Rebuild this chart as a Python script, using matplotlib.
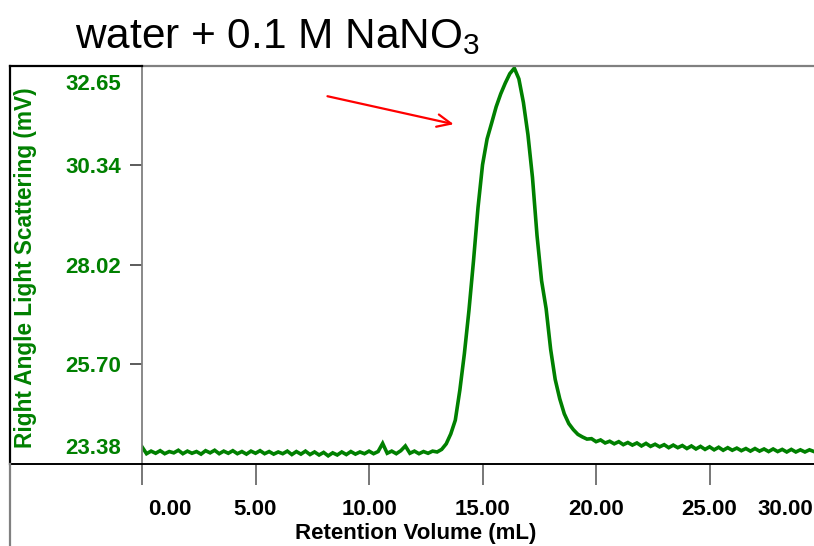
import numpy as np
import matplotlib.pyplot as plt
from matplotlib.lines import Line2D

plt.rcParams['font.family'] = 'Liberation Sans'
plt.rcParams['mathtext.fontset'] = 'custom'
plt.rcParams['mathtext.rm'] = 'Liberation Sans'

# Retention volume (mL) and right angle light scattering signal (mV)
vol_base = [0.0, 0.2, 0.4, 0.6, 0.8, 1.0, 1.2, 1.4, 1.6, 1.8, 2.0, 2.2, 2.4, 2.6, 2.8,
            3.0, 3.2, 3.4, 3.6, 3.8, 4.0, 4.2, 4.4, 4.6, 4.8, 5.0, 5.2, 5.4, 5.6, 5.8,
            6.0, 6.2, 6.4, 6.6, 6.8, 7.0, 7.2, 7.4, 7.6, 7.8, 8.0, 8.2, 8.4, 8.6, 8.8,
            9.0, 9.2, 9.4, 9.6, 9.8, 10.0, 10.2, 10.4, 10.6, 10.8, 11.0, 11.2, 11.4,
            11.6, 11.8, 12.0, 12.2, 12.4, 12.6, 12.8, 13.0, 13.2]
ras_base = [23.78, 23.62, 23.68, 23.63, 23.69, 23.62, 23.67, 23.64, 23.70, 23.62, 23.68,
            23.63, 23.67, 23.61, 23.69, 23.64, 23.70, 23.62, 23.68, 23.63, 23.69, 23.62,
            23.67, 23.61, 23.68, 23.63, 23.69, 23.62, 23.67, 23.61, 23.66, 23.62, 23.68,
            23.60, 23.67, 23.61, 23.68, 23.60, 23.66, 23.59, 23.65, 23.57, 23.64, 23.59,
            23.66, 23.60, 23.67, 23.61, 23.66, 23.62, 23.68, 23.62, 23.67, 23.86, 23.63,
            23.68, 23.62, 23.69, 23.80, 23.63, 23.68, 23.62, 23.67, 23.63, 23.68, 23.66,
            23.72]

vol_peak = [13.4, 13.6, 13.8, 14.0, 14.2, 14.4, 14.6, 14.8, 15.0, 15.2, 15.4, 15.6, 15.8,
            16.0, 16.2, 16.4, 16.6, 16.8, 17.0, 17.2, 17.4, 17.6, 17.8, 18.0, 18.2, 18.4,
            18.6, 18.8, 19.0, 19.2, 19.4, 19.6]
ras_peak = [23.85, 24.08, 24.40, 25.10, 25.95, 26.95, 28.10, 29.35, 30.35, 30.95, 31.32,
            31.70, 32.00, 32.25, 32.47, 32.60, 32.35, 31.80, 31.05, 30.05, 28.70, 27.65,
            27.00, 26.05, 25.35, 24.90, 24.55, 24.32, 24.18, 24.07, 24.01, 23.96]

vol_tail = [19.8, 20.0, 20.2, 20.4, 20.6, 20.8, 21.0, 21.2, 21.4, 21.6, 21.8, 22.0, 22.2,
            22.4, 22.6, 22.8, 23.0, 23.2, 23.4, 23.6, 23.8, 24.0, 24.2, 24.4, 24.6, 24.8,
            25.0, 25.2, 25.4, 25.6, 25.8, 26.0, 26.2, 26.4, 26.6, 26.8, 27.0, 27.2, 27.4,
            27.6, 27.8, 28.0, 28.2, 28.4, 28.6, 28.8, 29.0, 29.2, 29.4, 29.6]
ras_tail = [23.97, 23.90, 23.94, 23.87, 23.91, 23.85, 23.90, 23.83, 23.88, 23.82, 23.87,
            23.80, 23.86, 23.79, 23.84, 23.78, 23.83, 23.76, 23.82, 23.76, 23.81, 23.74,
            23.80, 23.73, 23.79, 23.72, 23.78, 23.71, 23.77, 23.70, 23.76, 23.70, 23.75,
            23.69, 23.74, 23.68, 23.74, 23.68, 23.73, 23.67, 23.73, 23.67, 23.72, 23.66,
            23.72, 23.66, 23.71, 23.66, 23.71, 23.67]

y_ticks = [23.38, 25.70, 28.02, 30.34, 32.65]
x_ticks = [0, 5, 10, 15, 20, 25]
x_ticklabels = ['0.00', '5.00', '10.00', '15.00', '20.00', '25.00', '30.00']

vol = np.array(vol_base + vol_peak + vol_tail)
ras = np.array(ras_base + ras_peak + ras_tail)

FS = 16  # tick and axis label size

W, H = 814, 546
fig = plt.figure(figsize=(W / 100, H / 100), dpi=100)
ax = fig.add_axes([142 / W, (H - 464) / H, (W - 142) / W, (464 - 66) / H])

ax.plot(vol, ras, color='green', lw=2.6, solid_joinstyle='miter')
ax.set_xlim(0, 29.6)
ax.set_ylim(y_ticks[0], y_ticks[-1])

# spines
ax.spines['right'].set_visible(False)
ax.spines['top'].set_color('#808080')
ax.spines['top'].set_linewidth(1.6)
ax.spines['left'].set_color('#808080')
ax.spines['left'].set_linewidth(1.3)
ax.spines['bottom'].set_color('black')
ax.spines['bottom'].set_linewidth(1.4)

# x ticks: marks at every 5 mL, end labels drawn separately
ax.set_xticks(x_ticks)
ax.set_xticklabels([''] + x_ticklabels[1:6])
ax.tick_params(axis='x', length=15, width=1.2, color='#606060', pad=10,
               labelsize=FS)
for lab in ax.get_xticklabels():
    lab.set_fontweight('bold')
ax.annotate(x_ticklabels[0], xy=(0, 0), xycoords='axes fraction', xytext=(4.5, -25),
            textcoords='offset points', ha='left', va='top', fontsize=FS,
            fontweight='bold')
ax.annotate(x_ticklabels[6], xy=(1, 0), xycoords='axes fraction', xytext=(-41, -25),
            textcoords='offset points', ha='left', va='top', fontsize=FS,
            fontweight='bold')

# y ticks: interior marks, end labels pushed inside the frame
ax.set_yticks(y_ticks[1:4])
ax.set_yticklabels(['%.2f' % v for v in y_ticks[1:4]])
ax.tick_params(axis='y', length=8.5, width=1.2, color='#404040', pad=6.5,
               labelsize=FS, labelcolor='green')
for lab in ax.get_yticklabels():
    lab.set_fontweight('bold')
ax.annotate('%.2f' % y_ticks[-1], xy=(0, y_ticks[-1]), xycoords=('axes fraction', 'data'),
            xytext=(-15, -13.5), textcoords='offset points', ha='right', va='center',
            fontsize=FS, fontweight='bold', color='green')
ax.annotate('%.2f' % y_ticks[0], xy=(0, y_ticks[0]), xycoords=('axes fraction', 'data'),
            xytext=(-15, 11.5), textcoords='offset points', ha='right', va='center',
            fontsize=FS, fontweight='bold', color='green')

# arrow pointing at the peak shoulder
ax.annotate('', xy=(13.85, 31.28), xytext=(8.05, 31.96),
            arrowprops=dict(arrowstyle='->,head_length=1.0,head_width=0.45',
                            color='red', lw=1.6))

# outer frame around the axis label column
def fline(x0, y0, x1, y1, color, lw):
    fig.add_artist(Line2D([x0 / W, x1 / W], [1 - y0 / H, 1 - y1 / H],
                          color=color, lw=lw, transform=fig.transFigure))

fline(10, 66, 142, 66, 'black', 1.6)
fline(10, 66, 10, 464, 'black', 1.6)
fline(10, 464, 142, 464, 'black', 1.4)
fline(10, 464, 10, 546, '#808080', 1.6)

fig.text(26 / W, 1 - 268 / H, 'Right Angle Light Scattering (mV)', rotation=90,
         ha='center', va='center', fontsize=16.3, fontweight='bold', color='green')
fig.text(416 / W, 1 - 533 / H, 'Retention Volume (mL)', ha='center', va='center',
         fontsize=FS, fontweight='bold')
fig.text(75 / W, 1 - 48 / H, 'water + 0.1 M NaNO$_3$', ha='left', va='baseline',
         fontsize=30.5)

plt.savefig('out.png', dpi=100)
plt.close()
